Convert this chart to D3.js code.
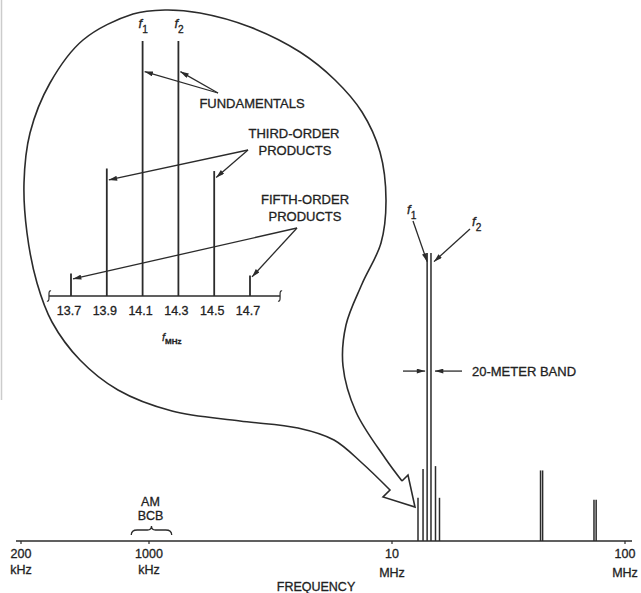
<!DOCTYPE html>
<html lang="en">

<head>
  <meta charset="utf-8">
  <title>Intermodulation products - 20-meter band</title>
  <script src="https://d3js.org/d3.v7.min.js"></script>
  <style>
    body {
      margin: 0;
      background: #fff;
    }

    svg text {
      font-family: "Liberation Sans", Arial, sans-serif;
      fill: #222;
      stroke: #222;
      stroke-width: 0.3px;
    }

    .ink {
      stroke: #2b2b2b;
      fill: none;
    }
  </style>
</head>

<body>
  <svg width="641" height="593"></svg>

  <script>
    // main spectrum (MHz), amplitudes relative to the fundamentals
    var mainTickValues = [0.2, 1, 10, 100];
    var mainTickNumbers = ["200", "1000", "10", "100"];
    var mainTickUnits = ["kHz", "kHz", "MHz", "MHz"];
    var bandFreqs = [12.93, 13.59, 14.15, 14.7, 15.37, 15.99];
    var bandLevels = [0.15, 0.25, 1, 1, 0.26, 0.15];
    var harmonicFreqs = [43.4, 44.3, 73.6, 75.2];
    var harmonicLevels = [0.245, 0.245, 0.143, 0.143];
    var amBand = [0.8, 1.24];

    // blown-up view of the 20-meter band
    var insetFreqs = [13.7, 13.9, 14.1, 14.3, 14.5, 14.7];
    var insetLevels = [0.088, 0.5, 1, 1, 0.49, 0.08];
    var insetTickLabels = ["13.7", "13.9", "14.1", "14.3", "14.5", "14.7"];
    var insetAxisEnds = [13.577, 14.868];

    var svg = d3.select("svg");

    svg.append("defs").append("marker")
      .attr("id", "head")
      .attr("viewBox", "0 0 10 6")
      .attr("refX", 10).attr("refY", 3)
      .attr("markerWidth", 9).attr("markerHeight", 5)
      .attr("markerUnits", "userSpaceOnUse")
      .attr("orient", "auto")
      .append("path")
      .attr("d", "M0,0 L10,3 L0,6 Z")
      .attr("fill", "#2b2b2b");

    // scan edge on the left
    svg.append("line")
      .attr("x1", 1.5).attr("x2", 1.5).attr("y1", 0).attr("y2", 400)
      .attr("stroke", "#ccc").attr("stroke-width", 1.5);

    // ---- main axis: schematic log frequency scale
    var x = d3.scaleLog()
      .domain(mainTickValues)
      .range([21, 149, 392, 625]);
    var y = d3.scaleLinear().domain([0, 1]).range([541, 253]);

    svg.append("line").attr("class", "ink")
      .attr("x1", 16).attr("x2", 632)
      .attr("y1", y(0)).attr("y2", y(0))
      .attr("stroke-width", 1.6);

    var ticks = svg.append("g").selectAll("g")
      .data(mainTickValues)
      .enter().append("g")
      .attr("transform", function (d) { return "translate(" + x(d) + "," + y(0) + ")"; });
    ticks.append("line").attr("class", "ink")
      .attr("y1", 0).attr("y2", 3).attr("stroke-width", 1.2);
    ticks.append("text")
      .attr("y", 17).attr("text-anchor", "middle").attr("font-size", 12.5)
      .text(function (d, i) { return mainTickNumbers[i]; });
    ticks.append("text")
      .attr("y", function (d, i) { return i < 2 ? 33 : 36; })
      .attr("text-anchor", "middle").attr("font-size", 12.5)
      .text(function (d, i) { return mainTickUnits[i]; });

    svg.append("text")
      .attr("x", 316).attr("y", 591)
      .attr("text-anchor", "middle").attr("font-size", 12.5)
      .text("FREQUENCY");

    // AM broadcast band brace
    var b0 = x(amBand[0]), b1 = x(amBand[1]), bm = (b0 + b1) / 2, by = 533;
    svg.append("path").attr("class", "ink").attr("stroke-width", 1.3)
      .attr("d", "M" + b0 + "," + (by + 2) + " Q" + b0 + "," + (by - 3) + " " + (b0 + 6) + "," + (by - 3) +
        " L" + (bm - 4) + "," + (by - 3) + " Q" + bm + "," + (by - 3) + " " + bm + "," + (by - 7) +
        " Q" + bm + "," + (by - 3) + " " + (bm + 4) + "," + (by - 3) +
        " L" + (b1 - 6) + "," + (by - 3) + " Q" + b1 + "," + (by - 3) + " " + b1 + "," + (by + 2));
    svg.append("text").attr("x", bm - 1).attr("y", 506)
      .attr("text-anchor", "middle").attr("font-size", 12.5).text("AM");
    svg.append("text").attr("x", bm - 1).attr("y", 520)
      .attr("text-anchor", "middle").attr("font-size", 12.5).text("BCB");

    // spectral lines
    svg.append("g").selectAll("line")
      .data(bandFreqs.concat(harmonicFreqs))
      .enter().append("line").attr("class", "ink")
      .attr("stroke-width", 1.5)
      .attr("x1", function (d) { return x(d); })
      .attr("x2", function (d) { return x(d); })
      .attr("y1", y(0))
      .attr("y2", function (d, i) {
        return y(i < bandFreqs.length ? bandLevels[i] : harmonicLevels[i - bandFreqs.length]);
      });

    // f1 / f2 pointers on the main spectrum
    function fLabel(g, px, py, sub, size) {
      var t = g.append("text").attr("x", px).attr("y", py)
        .attr("font-size", size).attr("font-style", "italic");
      t.append("tspan").text("f");
      t.append("tspan").attr("dy", size * 0.35).attr("font-size", size * 0.78)
        .attr("font-style", "normal").text(sub);
    }
    fLabel(svg, 407, 214, "1", 13);
    fLabel(svg, 472, 226, "2", 13);
    svg.append("line").attr("class", "ink").attr("stroke-width", 1.3)
      .attr("marker-end", "url(#head)")
      .attr("x1", 413).attr("y1", 221)
      .attr("x2", x(bandFreqs[2])).attr("y2", y(0.97));
    svg.append("line").attr("class", "ink").attr("stroke-width", 1.3)
      .attr("marker-end", "url(#head)")
      .attr("x1", 470).attr("y1", 229)
      .attr("x2", x(bandFreqs[3]) + 3).attr("y2", y(0.97));

    // 20-meter band width arrows
    var bandY = y(0.59);
    svg.append("line").attr("class", "ink").attr("stroke-width", 1.3)
      .attr("marker-end", "url(#head)")
      .attr("x1", 403).attr("y1", bandY)
      .attr("x2", x(bandFreqs[2]) - 2).attr("y2", bandY);
    svg.append("line").attr("class", "ink").attr("stroke-width", 1.3)
      .attr("marker-end", "url(#head)")
      .attr("x1", 462).attr("y1", bandY)
      .attr("x2", x(bandFreqs[3]) + 4).attr("y2", bandY);
    svg.append("text").attr("x", 472).attr("y", bandY + 5)
      .attr("font-size", 13).text("20-METER BAND");

    // ---- balloon outline with hollow arrow into the band
    var balloon = [
      [402, 481], [385, 458], [356, 412], [343, 366], [346, 325], [362, 284],
      [381, 243], [386, 200], [380, 152], [362, 112], [335, 80], [300, 52],
      [250, 27], [200, 13], [165, 10], [133, 14], [83, 40], [50, 83],
      [30, 133], [24, 183], [27, 233], [37, 283], [52, 322], [80, 360],
      [118, 390], [172, 411], [240, 421], [298, 428], [334, 440], [362, 463],
      [390, 490]
    ];
    var curve = d3.line().curve(d3.curveCatmullRom.alpha(0.5));
    svg.append("path").attr("class", "ink").attr("stroke-width", 1.6)
      .attr("d", curve(balloon) + " L383,497 L415,507 L408,475 L402,481");

    // ---- inset
    var xi = d3.scaleLinear().domain([13.7, 14.7]).range([71, 250]);
    var yi = d3.scaleLinear().domain([0, 1]).range([296, 41]);

    svg.append("line").attr("class", "ink").attr("stroke-width", 1.6)
      .attr("x1", xi(insetAxisEnds[0])).attr("x2", xi(insetAxisEnds[1]))
      .attr("y1", yi(0)).attr("y2", yi(0));
    insetAxisEnds.forEach(function (d) {
      var ex = xi(d), ey = yi(0);
      svg.append("path").attr("class", "ink").attr("stroke-width", 1.2)
        .attr("d", "M" + (ex + 2) + "," + (ey - 5) + " Q" + ex + "," + (ey - 6) + " " + ex + "," + (ey - 2) +
          " L" + ex + "," + (ey + 2) + " Q" + ex + "," + (ey + 6) + " " + (ex - 2) + "," + (ey + 5));
    });

    svg.append("g").selectAll("line")
      .data(insetFreqs)
      .enter().append("line").attr("class", "ink")
      .attr("stroke-width", 1.8)
      .attr("x1", function (d) { return xi(d); })
      .attr("x2", function (d) { return xi(d); })
      .attr("y1", yi(0))
      .attr("y2", function (d, i) { return yi(insetLevels[i]); });

    svg.append("g").selectAll("text")
      .data(insetFreqs)
      .enter().append("text")
      .attr("x", function (d) { return xi(d) - 2; })
      .attr("y", yi(0) + 19)
      .attr("text-anchor", "middle").attr("font-size", 12.5)
      .text(function (d, i) { return insetTickLabels[i]; });

    var fm = svg.append("text").attr("x", 162).attr("y", 341)
      .attr("font-size", 11).attr("font-style", "italic");
    fm.append("tspan").text("f");
    fm.append("tspan").attr("dy", 3).attr("font-size", 8).attr("font-style", "normal")
      .attr("font-weight", "bold").text("MHz");

    fLabel(svg, xi(14.1) - 4, 28, "1", 13);
    fLabel(svg, xi(14.3) - 4, 28, "2", 13);

    // annotation labels and their pointers
    function pointer(from, freq, level) {
      svg.append("line").attr("class", "ink").attr("stroke-width", 1.3)
        .attr("marker-end", "url(#head)")
        .attr("x1", from[0]).attr("y1", from[1])
        .attr("x2", xi(freq) + 2).attr("y2", yi(level));
    }

    svg.append("text").attr("x", 252).attr("y", 108)
      .attr("text-anchor", "middle").attr("font-size", 13).text("FUNDAMENTALS");
    pointer([218, 93], 14.1, 0.88);
    pointer([218, 93], 14.3, 0.88);

    svg.append("text").attr("x", 294).attr("y", 138)
      .attr("text-anchor", "middle").attr("font-size", 13).text("THIRD-ORDER");
    svg.append("text").attr("x", 295).attr("y", 155)
      .attr("text-anchor", "middle").attr("font-size", 13).text("PRODUCTS");
    pointer([248, 150], 13.9, 0.455);
    pointer([248, 150], 14.5, 0.465);

    svg.append("text").attr("x", 305).attr("y", 204)
      .attr("text-anchor", "middle").attr("font-size", 13).text("FIFTH-ORDER");
    svg.append("text").attr("x", 305).attr("y", 221)
      .attr("text-anchor", "middle").attr("font-size", 13).text("PRODUCTS");
    pointer([297, 228], 13.7, 0.067);
    pointer([297, 228], 14.7, 0.075);
  </script>
</body>

</html>
